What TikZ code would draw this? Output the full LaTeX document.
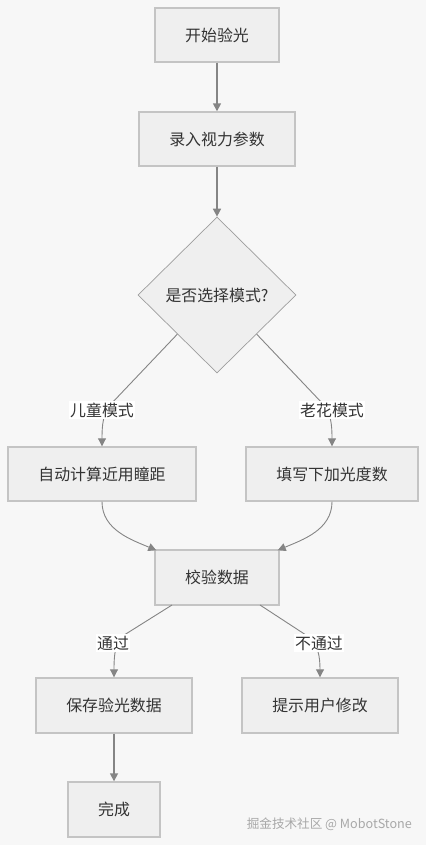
\documentclass[tikz,border=0pt]{standalone}
\usepackage{fontspec}
\setmainfont{Noto Sans CJK SC}
\usetikzlibrary{shapes.geometric,arrows.meta}
\definecolor{bgc}{HTML}{F7F7F7}
\definecolor{boxfill}{HTML}{EFEFEF}
\definecolor{boxline}{HTML}{C4C4C4}
\definecolor{edgec}{HTML}{858585}
\definecolor{txt}{HTML}{333333}
\definecolor{wm}{HTML}{A8A8A8}
\tikzset{
  procbox/.style={draw=boxline, fill=boxfill, line width=1.4pt, inner sep=0pt,
    font=\fontsize{15.9}{18}\selectfont, text=txt, align=center},
  decide/.style={diamond, draw=edgec!80, fill=boxfill, line width=0.7pt, inner sep=0pt,
    minimum width=158pt, minimum height=156pt, font=\fontsize{15.9}{18}\selectfont, text=txt},
  elabel/.style={fill=white, inner sep=1.5pt, font=\fontsize{15.9}{18}\selectfont, text=txt},
  thickarrow/.style={draw=edgec, line width=1.6pt, -{Triangle[length=8pt,width=8pt]}},
  thinarrow/.style={draw=edgec, line width=0.9pt, -{Triangle[length=8pt,width=8pt]}},
}
\begin{document}
\begin{tikzpicture}[x=1pt,y=1pt]
\useasboundingbox[fill=bgc] (0,0) rectangle (426,-845);

\node[procbox, minimum width=124pt, minimum height=54pt] (start) at (217,-35) {开始验光};
\node[procbox, minimum width=156pt, minimum height=54pt] (input) at (217,-139) {录入视力参数};
\node[decide] (dm) at (217,-295) {是否选择模式?};
\node[procbox, minimum width=188pt, minimum height=54pt] (c1) at (102,-474) {自动计算近用瞳距};
\node[procbox, minimum width=172pt, minimum height=54pt] (c2) at (332,-474) {填写下加光度数};
\node[procbox, minimum width=124pt, minimum height=55pt] (check) at (217,-577.5) {校验数据};
\node[procbox, minimum width=156pt, minimum height=55pt] (save) at (114,-705.5) {保存验光数据};
\node[procbox, minimum width=156pt, minimum height=55pt] (hint) at (320,-705.5) {提示用户修改};
\node[procbox, minimum width=92pt, minimum height=55pt] (done) at (114,-809.5) {完成};

\draw[thickarrow] (start) -- (input);
\draw[thickarrow] (input) -- (dm.north);

\coordinate (k1) at (111,-404);
\coordinate (k2) at (323,-404);
\draw[thinarrow] (dm.south west) -- (k1) .. controls (103,-413) and (102,-425) .. (c1.north);
\draw[thinarrow] (dm.south east) -- (k2) .. controls (331,-413) and (332,-425) .. (c2.north);
\node[elabel] (l1) at (102,-410) {儿童模式};
\node[elabel] (l2) at (332,-410) {老花模式};

\draw[thinarrow] (c1.south) .. controls (102,-530) and (132,-540) .. ([xshift=2pt,yshift=-1pt]check.north west);
\draw[thinarrow] (c2.south) .. controls (332,-530) and (302,-540) .. ([xshift=-2pt,yshift=-1pt]check.north east);

\coordinate (s1) at (172,-605);
\coordinate (s2) at (260,-605);
\coordinate (k3) at (121,-637);
\coordinate (k4) at (309,-637);
\draw[thinarrow] (s1) -- (k3) .. controls (115,-645) and (114,-656) .. (save.north);
\draw[thinarrow] (s2) -- (k4) .. controls (318,-645) and (320,-656) .. (hint.north);
\node[elabel] (l3) at (113,-643) {通过};
\node[elabel] (l4) at (319,-643) {不通过};

\draw[thickarrow] (save) -- (done);

\node[font=\fontsize{12.6}{14}\selectfont, text=wm, anchor=east, inner sep=0pt] (wmark) at (412,-824) {掘金技术社区 @ MobotStone};
\end{tikzpicture}
\end{document}
